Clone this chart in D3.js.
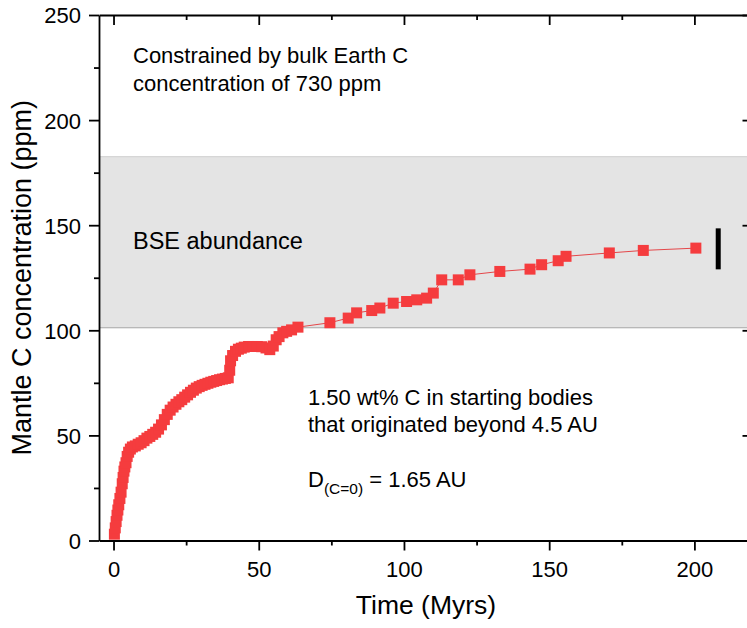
<!DOCTYPE html>
<html>
<head>
<meta charset="utf-8">
<script src="https://cdn.jsdelivr.net/npm/d3@7"></script>
<style>
  body { margin: 0; background: #fff; }
  svg { display: block; }
  text { font-family: "Liberation Sans", Arial, sans-serif; fill: #000; }
</style>
</head>
<body>
<svg id="chart" width="747" height="628"></svg>
<script>
// time since start (Myr) and mantle C (ppm)
var times = [0.3, 0.6, 0.9, 1.2, 1.5, 1.8, 2.2, 2.6, 3.0, 3.3, 3.6, 3.9, 4.3, 4.7, 5.2, 5.8,
  6.5, 7.5, 8.5, 9.5, 10.5, 11.5, 12.5, 13.5, 14.5, 15.5, 16.5, 17.5, 18.5, 19.5, 20.5,
  21.5, 22.5, 23.5, 24.5, 25.5, 26.5, 27.5, 28.5, 29.5, 30.5, 31.5, 32.5, 33.5, 34.5,
  35.5, 36.5, 37.5, 38.5, 39.5, 40.0, 40.3, 41.0, 42.0, 43.0, 44.0, 45.0, 46.5, 48.0,
  49.5, 51.0, 52.5, 53.8, 55.0, 56.0, 57.0, 58.3, 59.6, 61.3, 63.5, 74.5, 80.8, 83.7,
  88.9, 91.7, 96.3, 100.9, 104.4, 107.8, 110.1, 113.0, 118.7, 122.7, 133.0, 143.4,
  147.4, 153.1, 155.8, 170.7, 182.4, 200.5];
var carbon = [3, 6, 9, 12, 14.5, 17, 20, 23, 27, 30, 33, 35, 37, 40, 42, 43.5,
  44.5, 45, 45.8, 46.5, 47.5, 48.7, 49.5, 50.5, 51.5, 53, 55, 57.5, 60, 62, 63.5,
  64.8, 66, 67, 68.2, 69.3, 70.5, 71.5, 72.5, 73.2, 73.8, 74.3, 74.8, 75.3, 75.7,
  76.1, 76.5, 76.8, 77.1, 77.4, 81, 85.5, 88, 90, 91, 91.5, 92, 92.3, 92.3,
  92.3, 92.2, 91.6, 90.8, 92.5, 95.5, 97, 98.8, 99.5, 100.2, 101.5, 103.6, 105.8, 108.3,
  109.4, 110.6, 112.9, 113.7, 114.5, 115.3, 117.7, 124.0, 124.0, 126.4, 128.0, 129.1,
  131.2, 133.1, 135.2, 136.8, 138.0, 139.1];

var bseBand = [101.2, 182.6];          // BSE abundance range (ppm)
var bseBar = [208.2, 129, 148.5];      // time, low, high

var xTicks = [0, 50, 100, 150, 200];
var xMinor = [25, 75, 125, 175];
var yTicks = [0, 50, 100, 150, 200, 250];
var yMinor = [25, 75, 125, 175, 225];

var svg = d3.select('#chart');
var x = d3.scaleLinear().domain([-5, 220]).range([99, 752.5]);
var y = d3.scaleLinear().domain([0, 250]).range([540.5, 15]);

// grey BSE band
svg.append('rect')
  .attr('x', x(-5))
  .attr('width', x(220) - x(-5))
  .attr('y', y(bseBand[1]))
  .attr('height', y(bseBand[0]) - y(bseBand[1]))
  .attr('fill', '#e4e4e4');
bseBand.forEach(function(v, i) {
  svg.append('line')
    .attr('x1', x(-5)).attr('x2', x(220))
    .attr('y1', y(v)).attr('y2', y(v))
    .attr('stroke', i === 0 ? '#a6a6a6' : '#cfcfcf')
    .attr('stroke-width', 1);
});

// annotations
function label(tx, ty, str, size) {
  return svg.append('text').attr('x', tx).attr('y', ty)
    .attr('font-size', size || 22).text(str);
}
label(133, 63, 'Constrained by bulk Earth C');
label(133, 91, 'concentration of 730 ppm');
label(133, 249, 'BSE abundance', 23.5);
label(308, 405, '1.50 wt% C in starting bodies');
label(308, 432, 'that originated beyond 4.5 AU');
var dl = svg.append('text').attr('x', 308).attr('y', 487).attr('font-size', 22);
dl.append('tspan').text('D');
dl.append('tspan').attr('font-size', 15.5).attr('dy', 7).text('(C=0)');
dl.append('tspan').attr('dy', -7).text(' = 1.65 AU');

// data line + markers
var pts = d3.zip(times, carbon);
svg.append('path')
  .datum(pts)
  .attr('d', d3.line().x(function(d) { return x(d[0]); }).y(function(d) { return y(d[1]); }))
  .attr('fill', 'none')
  .attr('stroke', '#e4474a')
  .attr('stroke-width', 1);

var sq = 11;
svg.append('g').selectAll('rect').data(pts).enter().append('rect')
  .attr('x', function(d) { return x(d[0]) - sq / 2; })
  .attr('y', function(d) { return y(d[1]) - sq / 2; })
  .attr('width', sq)
  .attr('height', sq)
  .attr('fill', '#f53c3e');

// black bar for bulk estimate
svg.append('rect')
  .attr('x', x(bseBar[0]) - 2.5)
  .attr('width', 5)
  .attr('y', y(bseBar[2]))
  .attr('height', y(bseBar[1]) - y(bseBar[2]))
  .attr('fill', '#000');

// axes
function styleAxis(g, keepDomain) {
  g.select('.domain').attr('stroke', keepDomain ? '#000' : 'none').attr('stroke-width', 1.8);
  g.selectAll('.tick line').attr('stroke', '#000').attr('stroke-width', 1.8);
  g.selectAll('.tick text').attr('font-size', 22).attr('fill', '#000')
    .attr('font-family', '"Liberation Sans", Arial, sans-serif');
}

var bottom = svg.append('g').attr('transform', 'translate(0,' + y(0) + ')')
  .call(d3.axisBottom(x).tickValues(xTicks).tickSize(10).tickSizeOuter(0));
styleAxis(bottom, true);
bottom.selectAll('.tick text').attr('y', 36.5).attr('dy', null);
svg.append('g').attr('transform', 'translate(0,' + y(0) + ')')
  .call(d3.axisBottom(x).tickValues(xMinor).tickSize(5).tickFormat(''))
  .call(styleAxis, false);

var left = svg.append('g').attr('transform', 'translate(' + x(-5) + ',0)')
  .call(d3.axisLeft(y).tickValues(yTicks).tickSize(10).tickSizeOuter(0).tickPadding(8));
styleAxis(left, true);
left.selectAll('.tick text').attr('dy', '0.36em');
svg.append('g').attr('transform', 'translate(' + x(-5) + ',0)')
  .call(d3.axisLeft(y).tickValues(yMinor).tickSize(5).tickFormat(''))
  .call(styleAxis, false);

// top and right frame, ticks inward
svg.append('g').attr('transform', 'translate(0,' + y(250) + ')')
  .call(d3.axisBottom(x).tickValues(xTicks).tickSize(10).tickSizeOuter(0).tickFormat(''))
  .call(styleAxis, true);
svg.append('g').attr('transform', 'translate(0,' + y(250) + ')')
  .call(d3.axisBottom(x).tickValues(xMinor).tickSize(5).tickFormat(''))
  .call(styleAxis, false);
svg.append('g').attr('transform', 'translate(' + x(220) + ',0)')
  .call(d3.axisLeft(y).tickValues(yTicks).tickSize(10).tickSizeOuter(0).tickFormat(''))
  .call(styleAxis, true);
svg.append('g').attr('transform', 'translate(' + x(220) + ',0)')
  .call(d3.axisLeft(y).tickValues(yMinor).tickSize(5).tickFormat(''))
  .call(styleAxis, false);

// axis titles
svg.append('text')
  .attr('transform', 'translate(31,' + ((y(0) + y(250)) / 2) + ') rotate(-90)')
  .attr('text-anchor', 'middle')
  .attr('font-size', 27)
  .text('Mantle C concentration (ppm)');
svg.append('text')
  .attr('x', 426).attr('y', 614)
  .attr('text-anchor', 'middle')
  .attr('font-size', 26.5)
  .text('Time (Myrs)');
</script>
</body>
</html>
